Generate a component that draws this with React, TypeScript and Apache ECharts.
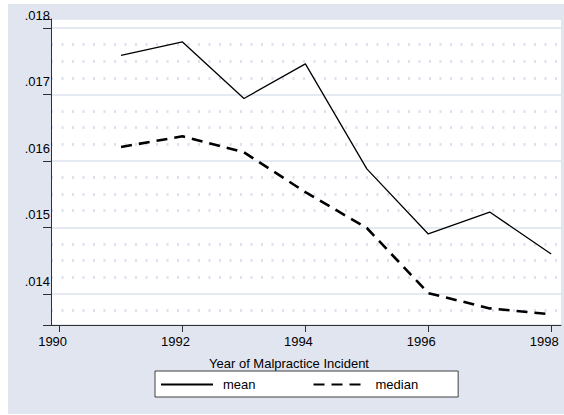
import React, { useEffect, useRef } from "react";
import * as echarts from "echarts";

const years = [1991, 1992, 1993, 1994, 1995, 1996, 1997, 1998];
const meanValues = [0.01759, 0.01779, 0.01694, 0.01746, 0.01588, 0.0149, 0.01523, 0.0146];
const medianValues = [0.01621, 0.01637, 0.01613, 0.01553, 0.01499, 0.01401, 0.01378, 0.01369];
const xTickLabels = [1990, 1992, 1994, 1996, 1998];
const yTickLabels = [".014", ".015", ".016", ".017", ".018"];
const xTitle = "Year of Malpractice Incident";

const FONT = "'Liberation Sans', Arial, sans-serif";
const BG = "#e0e5f0";

export default function App() {
  const ref = useRef<HTMLDivElement>(null);
  useEffect(() => {
    if (!ref.current) return;
    const chart = echarts.init(ref.current, undefined, { renderer: "svg" });
    const yLabelFor = (v: number) => {
      const k = Math.round(v * 1000);
      if (Math.abs(v * 1000 - k) > 1e-6) return "";
      const idx = k - 14;
      return idx >= 0 && idx < yTickLabels.length ? yTickLabels[idx] : "";
    };
    const xLabelFor = (v: number) => {
      const r = Math.round(v);
      if (Math.abs(v - r) > 1e-6) return "";
      return xTickLabels.indexOf(r) >= 0 ? String(r) : "";
    };
    chart.setOption({
      animation: false,
      backgroundColor: "#ffffff",
      textStyle: { fontFamily: FONT },
      graphic: [
        {
          type: "rect",
          z: -10,
          silent: true,
          shape: { x: 8, y: 4, width: 556, height: 410 },
          style: { fill: BG },
        },
      ],
      grid: {
        left: 51,
        top: 19,
        right: 3,
        bottom: 90,
        show: true,
        backgroundColor: "#ffffff",
        borderWidth: 0,
      },
      legend: {
        left: 155,
        top: 371,
        orient: "horizontal",
        backgroundColor: "#ffffff",
        borderColor: "#404040",
        borderWidth: 1,
        borderRadius: 0,
        padding: [7, 40, 6, 5],
        itemWidth: 52,
        itemHeight: 14,
        itemGap: 57,
        itemStyle: { opacity: 0 },
        textStyle: { fontFamily: FONT, fontSize: 13, color: "#000", padding: [0, 0, 0, 5] },
        data: ["mean", "median"],
      },
      xAxis: {
        type: "value",
        min: 1989.86,
        max: 1998.16,
        minInterval: 2,
        maxInterval: 2,
        splitNumber: 4,
        name: xTitle,
        nameLocation: "middle",
        nameGap: 32,
        nameTextStyle: { fontFamily: FONT, fontSize: 13, color: "#000", padding: [0, 34, 0, 0] },
        axisLine: { show: true, onZero: false, lineStyle: { color: "#303030", width: 1 } },
        axisTick: { show: true, length: 7, lineStyle: { color: "#303030" } },
        axisLabel: {
          formatter: xLabelFor,
          fontFamily: FONT,
          fontSize: 13,
          color: "#000",
          margin: 10,
          padding: [0, 14, 0, 0],
          showMinLabel: false,
          showMaxLabel: false,
        },
        splitLine: { show: false },
      },
      yAxis: {
        type: "value",
        min: 0.01353,
        max: 0.018136,
        minInterval: 0.001,
        maxInterval: 0.001,
        splitNumber: 5,
        axisLine: { show: true, onZero: false, lineStyle: { color: "#303030", width: 1 } },
        axisTick: { show: true, length: 8, lineStyle: { color: "#303030" } },
        axisLabel: {
          formatter: yLabelFor,
          fontFamily: FONT,
          fontSize: 13,
          color: "#000",
          margin: 1,
          verticalAlign: "bottom",
          lineHeight: 13,
          padding: [0, 0, 6, 0],
        },
        splitLine: { show: true, lineStyle: { color: "#dde3ee", width: 1.5 } },
        minorTick: { show: false, splitNumber: 4 },
        minorSplitLine: {
          show: true,
          lineStyle: { color: "#dde2ef", width: 3, type: [2, 8.5] },
        },
      },
      series: [
        {
          name: "mean",
          type: "line",
          data: years.map((y, i) => [y, meanValues[i]]),
          symbol: "none",
          lineStyle: { color: "#000", width: 1.3, type: "solid" },
          itemStyle: { color: "#000" },
        },
        {
          name: "median",
          type: "line",
          data: years.map((y, i) => [y, medianValues[i]]),
          symbol: "none",
          lineStyle: { color: "#000", width: 2.6, type: [11, 7] },
          itemStyle: { color: "#000" },
        },
      ],
    });
    return () => chart.dispose();
  }, []);
  return (
    <div
      ref={ref}
      style={{ position: "absolute", left: 0, top: 0, width: 564, height: 415 }}
    />
  );
}
